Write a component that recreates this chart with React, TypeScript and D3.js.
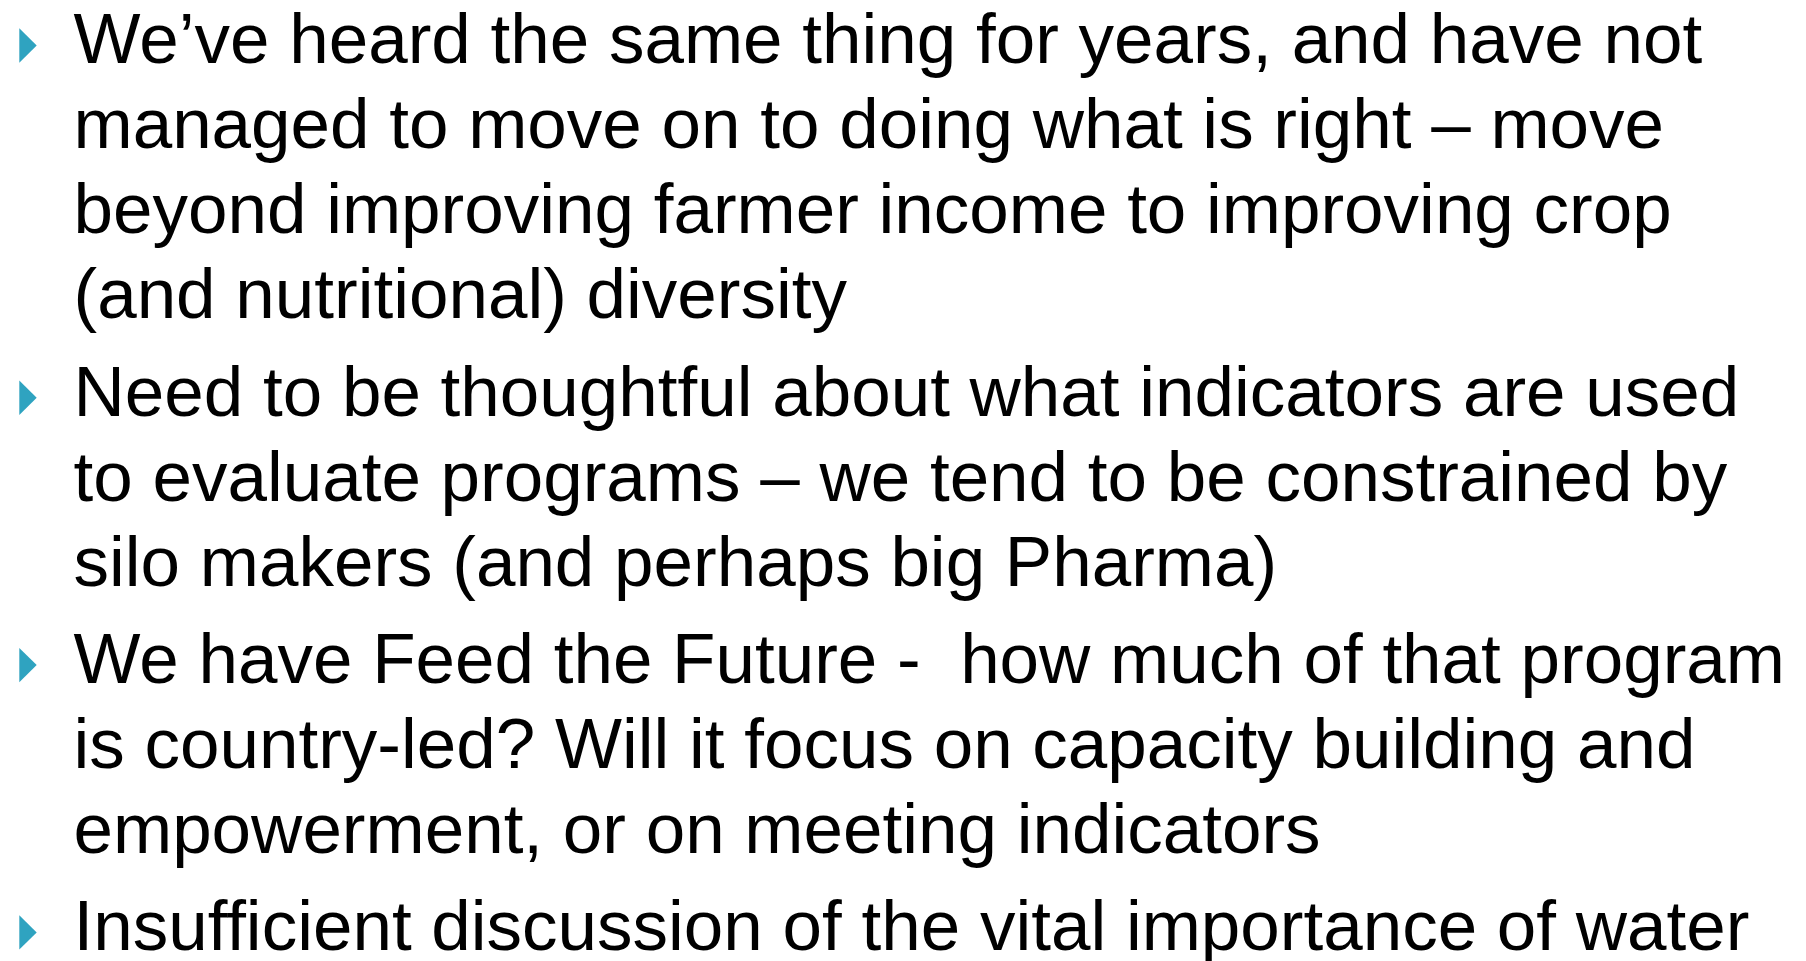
import { useEffect, useRef } from "react";
import * as d3 from "d3";

const WIDTH = 1806;
const HEIGHT = 961;

// Bullet text, one array per bullet, already broken into lines as on the slide
const bullet1 = [
  "We\u2019ve heard the same thing for years, and have not",
  "managed to move on to doing what is right \u2013 move",
  "beyond improving farmer income to improving crop",
  "(and nutritional) diversity",
];
const bullet2 = [
  "Need to be thoughtful about what indicators are used",
  "to evaluate programs \u2013 we tend to be constrained by",
  "silo makers (and perhaps big Pharma)",
];
const bullet3 = [
  "We have Feed the Future -  how much of that program",
  "is country-led? Will it focus on capacity building and",
  "empowerment, or on meeting indicators",
];
const bullet4 = ["Insufficient discussion of the vital importance of water"];

const bullets = [bullet1, bullet2, bullet3, bullet4];

const FONT_SIZE = 71;
const LINE_STEP = 85;
const PARA_GAP = 12.3;
const FIRST_BASELINE = 63.4;
const TEXT_X = 73.5;
const BULLET_COLOR = "#2fa3c0";

export default function App() {
  const svgRef = useRef<SVGSVGElement>(null);

  useEffect(() => {
    if (!svgRef.current) return;
    const svg = d3.select(svgRef.current);
    svg.selectAll("*").remove();

    // flatten into line records with paragraph index
    const lines: { text: string; para: number; idx: number; first: boolean }[] = [];
    let idx = 0;
    bullets.forEach((b, p) => {
      b.forEach((t, i) => {
        lines.push({ text: t, para: p, idx: idx++, first: i === 0 });
      });
    });

    const baseline = (d: { para: number; idx: number }) =>
      FIRST_BASELINE + d.idx * LINE_STEP + d.para * PARA_GAP;

    const g = svg.append("g");

    g.selectAll("text.line")
      .data(lines)
      .join("text")
      .attr("class", "line")
      .attr("x", TEXT_X)
      .attr("y", (d) => baseline(d))
      .attr("fill", "#000")
      .attr("font-family", "'Liberation Sans', Arial, sans-serif")
      .attr("font-size", FONT_SIZE)
      .style("white-space", "pre")
      .text((d) => d.text);

    // triangle bullets
    const tri = d3.path();
    tri.moveTo(0, -34.4);
    tri.lineTo(17.4, -17.2);
    tri.lineTo(0, 0);
    tri.closePath();

    g.selectAll("path.bullet")
      .data(lines.filter((d) => d.first))
      .join("path")
      .attr("class", "bullet")
      .attr("transform", (d) => `translate(19.3,${baseline(d) - 0.7})`)
      .attr("d", tri.toString())
      .attr("fill", BULLET_COLOR);
  }, []);

  return (
    <svg
      ref={svgRef}
      width={WIDTH}
      height={HEIGHT}
      style={{ position: "absolute", left: 0, top: 0, background: "#fff" }}
    />
  );
}
